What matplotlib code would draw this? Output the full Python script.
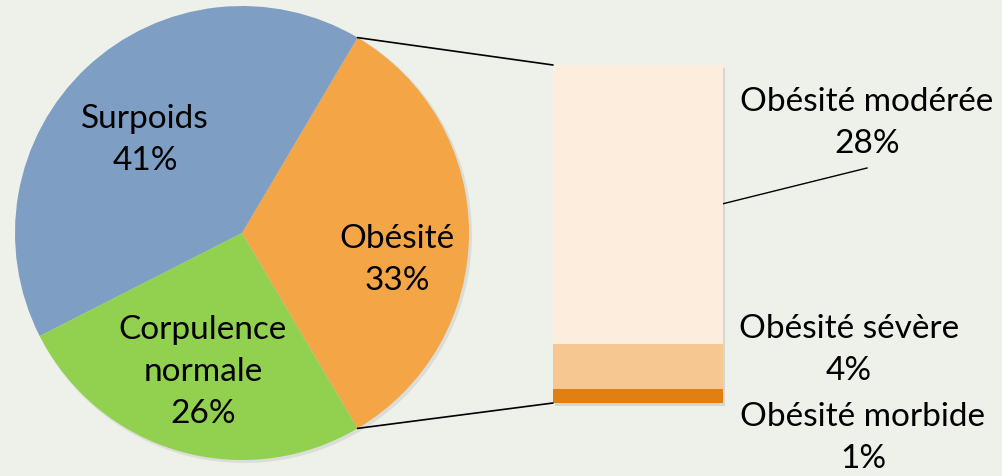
import numpy as np
import matplotlib
matplotlib.use('Agg')
import matplotlib.pyplot as plt
from matplotlib.patches import ConnectionPatch, Rectangle, Circle

# Pie data (counterclockwise from the right-hand split)
pie_labels = ['Obésité', 'Surpoids', 'Corpulence\nnormale']
pie_values = [33, 41, 26]
pie_colors = ['#F4A646', '#7F9EC3', '#92D050']

# Breakdown of "Obésité" (bottom to top); bar heights as read, labels as shown
bar_labels = ['Obésité morbide', 'Obésité sévère', 'Obésité modérée']
bar_values = [1.4, 4.4, 27.5]
bar_pct = ['1%', '4%', '28%']
bar_colors = ['#E07F12', '#F7C792', '#FDEDDC']

BG = '#EEF0EA'
FONT = 'Lato'
FS = 24
LS = 1.48

fig = plt.figure(figsize=(10.02, 4.76), dpi=100)
fig.patch.set_facecolor(BG)

# main axes in pixel units (y up)
ax = fig.add_axes([0, 0, 1, 1])
ax.axis('off')

center = (242, 243)
radius = 227
# soft shadow behind the pie
ax.add_patch(Circle((center[0] + 2, center[1] - 2), radius + 1, facecolor='black',
                    alpha=0.08, linewidth=0, zorder=0))
start = -pie_values[0] / 100 * 360 / 2
wedges, _ = ax.pie(pie_values, colors=pie_colors, startangle=start,
                   center=center, radius=radius, counterclock=True,
                   wedgeprops=dict(linewidth=0, zorder=1))
ax.set_xlim(0, 1002)
ax.set_ylim(0, 476)
ax.set_aspect('equal')

pie_pos = [(397, 216), (145, 336), (203, 104)]
for lab, val, (x, y) in zip(pie_labels, pie_values, pie_pos):
    ax.text(x, y, f'{lab}\n{val}%', ha='center', va='center', fontsize=FS,
            family=FONT, linespacing=LS, zorder=3)

# stacked bar for the breakdown
bx = fig.add_axes([553 / 1002, (476 - 403) / 476, 170 / 1002, 338 / 476])
bx.set_xlim(-0.5, 0.5)
bx.set_ylim(0, sum(bar_values))
bx.axis('off')
bottoms = np.concatenate([[0], np.cumsum(bar_values)[:-1]])
bx.add_patch(Rectangle((-0.49, -0.25), 1.0, sum(bar_values), facecolor='black',
                       alpha=0.1, linewidth=0, clip_on=False, zorder=1))
bars = bx.bar(0, bar_values, bottom=bottoms, width=1, color=bar_colors, linewidth=0, zorder=2)

# connector lines from obesity wedge to bar
w0 = wedges[0]
for ang, ybar in [(w0.theta2, sum(bar_values)), (w0.theta1, 0)]:
    px = center[0] + radius * np.cos(np.radians(ang))
    py = center[1] + radius * np.sin(np.radians(ang))
    con = ConnectionPatch(xyA=(px, py), coordsA=ax.transData,
                          xyB=(-0.5, ybar), coordsB=bx.transData,
                          color='black', linewidth=1.2)
    fig.add_artist(con)

# bar labels
label_pos = [(863, 38), (849, 126), (867, 353)]
for lab, pct, (x, y) in zip(bar_labels, bar_pct, label_pos):
    ax.text(x, y, f'{lab}\n{pct}', ha='center', va='center',
            fontsize=FS, family=FONT, linespacing=LS)
ax.plot([722, 867], [272, 308], color='black', linewidth=1)

fig.savefig('out.png', dpi=100, facecolor=BG)
